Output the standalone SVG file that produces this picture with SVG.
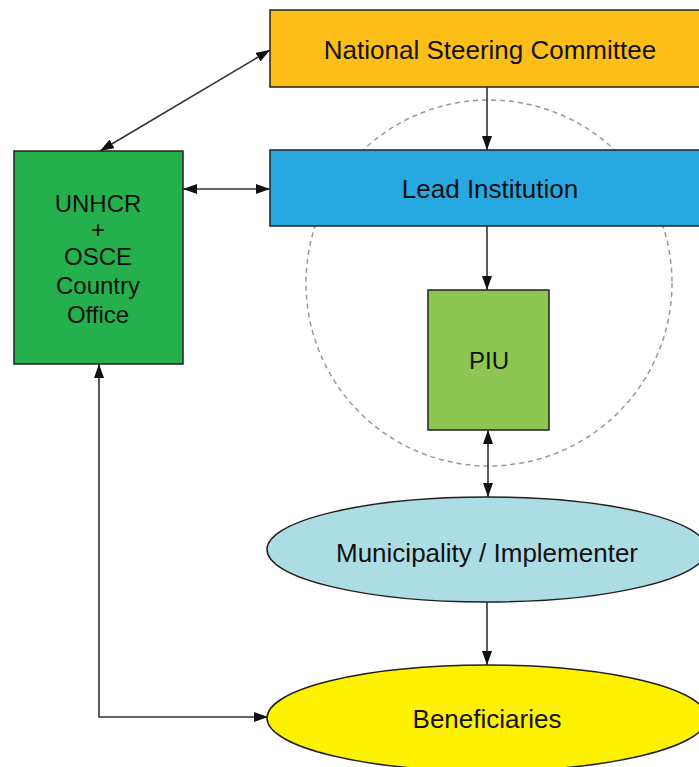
<svg xmlns="http://www.w3.org/2000/svg" width="699" height="767" viewBox="0 0 699 767">
<style>
.node{stroke:#231f20;stroke-width:1.5}
.lbl{font-family:"Liberation Sans",Arial,sans-serif;font-size:26px;fill:#111;text-anchor:middle}
.sm{font-size:24px}
.conn{stroke:#333;stroke-width:1.6;fill:none}
</style>
<defs>
<marker id="ah" viewBox="0 0 14 10" refX="14" refY="5" markerWidth="14" markerHeight="10" markerUnits="userSpaceOnUse" orient="auto-start-reverse">
<path d="M0,0 L14,5 L0,10 z" fill="#111"/>
</marker>
</defs>
<rect width="699" height="767" fill="#fff"/>
<circle cx="489" cy="283" r="183" fill="none" stroke="#999" stroke-width="1.5" stroke-dasharray="5,4"/>
<g id="nsc"><rect class="node" x="270" y="10" width="440" height="77" fill="#fdbf17"/><text class="lbl" x="490" y="59">National Steering Committee</text></g>
<g id="lead"><rect class="node" x="270" y="150" width="440" height="76" fill="#27a8e0"/><text class="lbl" x="490" y="198">Lead Institution</text></g>
<g id="unhcr"><rect class="node" x="14" y="151" width="169" height="213" fill="#24b04c"/>
<text class="lbl sm" x="98" y="212">UNHCR</text><text class="lbl sm" x="98" y="238">+</text><text class="lbl sm" x="98" y="265">OSCE</text><text class="lbl sm" x="98" y="294">Country</text><text class="lbl sm" x="98" y="323">Office</text></g>
<g id="piu"><rect class="node" x="428" y="290" width="121" height="140" fill="#8dc651"/><text class="lbl sm" x="489" y="369">PIU</text></g>
<g id="mun"><ellipse class="node" cx="487" cy="549.5" rx="220" ry="52.5" fill="#addde4"/><text class="lbl" x="487" y="562">Municipality / Implementer</text></g>
<g id="ben"><ellipse class="node" cx="487" cy="718" rx="220" ry="53" fill="#fff200"/><text class="lbl" x="487" y="728">Beneficiaries</text></g>
<g id="connectors">
<line class="conn" x1="487" y1="87" x2="487" y2="150" marker-end="url(#ah)"/>
<line class="conn" x1="487" y1="226" x2="487" y2="290" marker-end="url(#ah)"/>
<line class="conn" x1="488" y1="430" x2="488" y2="497" marker-start="url(#ah)" marker-end="url(#ah)"/>
<line class="conn" x1="487" y1="602" x2="487" y2="665" marker-end="url(#ah)"/>
<line class="conn" x1="183" y1="189" x2="270" y2="189" marker-start="url(#ah)" marker-end="url(#ah)"/>
<line class="conn" x1="100" y1="151" x2="270" y2="50" marker-start="url(#ah)" marker-end="url(#ah)"/>
<polyline class="conn" points="99,364 99,717 268,717" marker-start="url(#ah)" marker-end="url(#ah)"/>
</g>
</svg>
